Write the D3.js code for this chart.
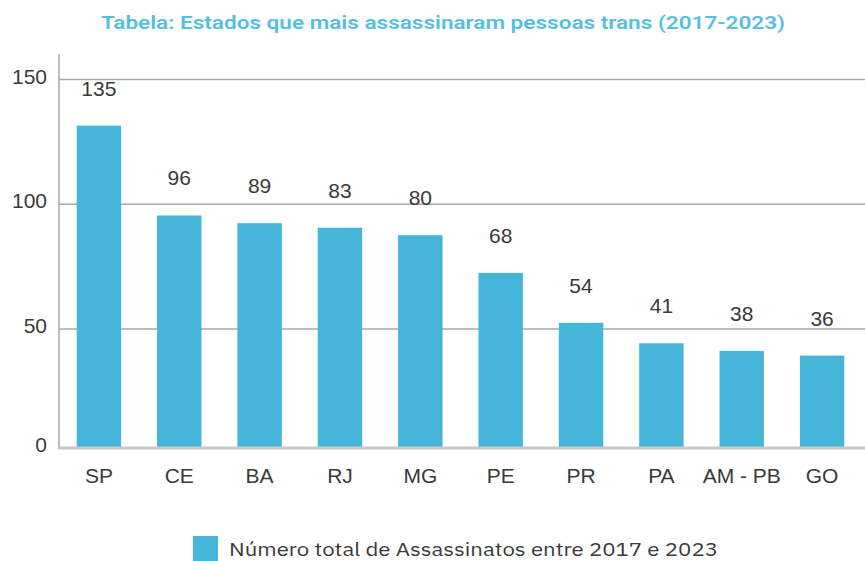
<!DOCTYPE html>
<html><head><meta charset="utf-8">
<script src="https://cdn.jsdelivr.net/npm/d3@7"></script>
<style>body{margin:0;background:#fff}svg{display:block}</style>
</head><body>
<svg id="c" width="865" height="561"></svg>
<script>
const categories = ["SP","CE","BA","RJ","MG","PE","PR","PA","AM - PB","GO"];
// bar heights as drawn against the axis
const values = [131.5, 95.5, 92.4, 90.6, 87.6, 72.5, 52.5, 44.0, 40.8, 38.8];
// numbers printed above the bars
const labels = [135, 96, 89, 83, 80, 68, 54, 41, 38, 36];
const yTicks = [0, 50, 100, 150];
const title = "Tabela: Estados que mais assassinaram pessoas trans (2017-2023)";
const legendText = "Número total de Assassinatos entre 2017 e 2023";

const svg = d3.select("#c");
const barColor = "#45b6d9";
const numFont = "'Liberation Sans', Arial, sans-serif";

const x = d3.scaleBand().domain(categories).range([59, 862]).paddingInner(0.447).paddingOuter(0.22);
const y = d3.scaleLinear().domain([0, 50, 150]).range([448, 329, 79.5]);

// title
svg.append("text").attr("x", 443).attr("y", 29).attr("text-anchor", "middle")
  .attr("font-family", "Roboto, sans-serif").attr("font-weight", 600).attr("font-size", 19)
  .attr("fill", "#54bfdf").attr("textLength", 684).attr("lengthAdjust", "spacingAndGlyphs")
  .text(title);

// gridlines
svg.append("g").selectAll("line").data(yTicks.filter(d => d > 0)).join("line")
  .attr("x1", 59).attr("x2", 865).attr("y1", d => y(d)).attr("y2", d => y(d))
  .attr("stroke", "#a8a8a8").attr("stroke-width", 1.5);

// y axis line
svg.append("line").attr("x1", 59).attr("x2", 59).attr("y1", 54).attr("y2", 449)
  .attr("stroke", "#a8a8a8").attr("stroke-width", 1.5);

// y tick labels
svg.append("g").selectAll("text").data(yTicks).join("text")
  .attr("x", 47).attr("y", d => y(d) + 4).attr("text-anchor", "end")
  .attr("font-family", numFont).attr("font-size", 21).attr("fill", "#3a3a3a")
  .text(d => d);

// bars
svg.append("g").selectAll("rect").data(categories).join("rect")
  .attr("x", d => x(d)).attr("width", x.bandwidth())
  .attr("y", (d, i) => y(values[i])).attr("height", (d, i) => y(0) - y(values[i]))
  .attr("fill", barColor);

// baseline
svg.append("line").attr("x1", 59).attr("x2", 865).attr("y1", y(0)).attr("y2", y(0))
  .attr("stroke", "#c8c8c8").attr("stroke-width", 3);

// value labels
svg.append("g").selectAll("text").data(categories).join("text")
  .attr("x", d => x(d) + x.bandwidth() / 2).attr("y", (d, i) => y(values[i]) - 30)
  .attr("text-anchor", "middle").attr("font-family", numFont).attr("font-size", 21)
  .attr("fill", "#3a3a3a").text((d, i) => labels[i]);

// x labels
svg.append("g").selectAll("text").data(categories).join("text")
  .attr("x", d => x(d) + x.bandwidth() / 2).attr("y", 483)
  .attr("text-anchor", "middle").attr("font-family", numFont).attr("font-size", 21)
  .attr("fill", "#3a3a3a").text(d => d);

// legend
svg.append("rect").attr("x", 193).attr("y", 536).attr("width", 25).attr("height", 25).attr("fill", barColor);
svg.append("text").attr("x", 229).attr("y", 556)
  .attr("font-family", "'IBM Plex Sans', 'Noto Sans', sans-serif").attr("font-size", 19)
  .attr("fill", "#3a3a3a").attr("textLength", 489).attr("lengthAdjust", "spacingAndGlyphs")
  .text(legendText);
</script>
</body></html>
